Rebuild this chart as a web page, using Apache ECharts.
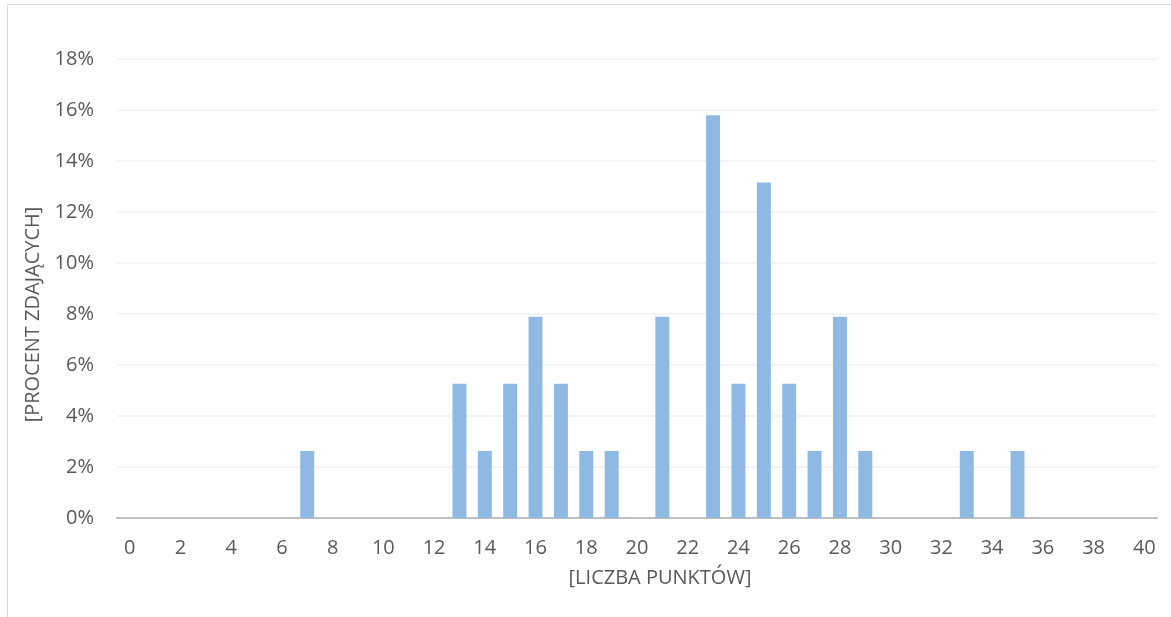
<!DOCTYPE html>
<html>
<head>
<meta charset="utf-8">
<script src="https://cdn.jsdelivr.net/npm/echarts@6/dist/echarts.min.js"></script>
<style>
  html, body { margin: 0; padding: 0; background: #fff; }
  #frame { position: absolute; left: 7px; top: 4px; width: 1170px; height: 620px; border: 1px solid #d9d9d9; box-sizing: border-box; }
  #chart { position: absolute; left: 0; top: 0; width: 1171px; height: 617px; }
</style>
</head>
<body>
<div id="frame"></div>
<div id="chart"></div>
<script>
// rozkład wyników: liczba punktów 0..40, procent zdających
const points = Array.from({ length: 41 }, (_, i) => String(i))
const percent = [
  0, 0, 0, 0, 0, 0, 0, 2.63, 0, 0,
  0, 0, 0, 5.26, 2.63, 5.26, 7.89, 5.26, 2.63, 2.63,
  0, 7.89, 0, 15.79, 5.26, 13.16, 5.26, 2.63, 7.89, 2.63,
  0, 0, 0, 2.63, 0, 2.63, 0, 0, 0, 0,
  0,
]
const yTicks = [0, 2, 4, 6, 8, 10, 12, 14, 16, 18]

const font = 'Open Sans, Liberation Sans, sans-serif'
const chart = echarts.init(document.getElementById('chart'))

chart.setOption({
  animation: false,
  grid: { left: 117, right: 14, top: 59, bottom: 99 },
  xAxis: {
    type: 'category',
    data: points,
    name: '[LICZBA PUNKTÓW]',
    nameLocation: 'middle',
    nameGap: 50,
    nameTextStyle: { color: '#595959', fontSize: 20, fontFamily: font, padding: [0, 0, 0, 46] },
    axisLine: { lineStyle: { color: '#bfbfbf', width: 2 } },
    axisTick: { show: false },
    axisLabel: {
      color: '#595959',
      fontSize: 20,
      fontFamily: font,
      margin: 20,
      interval: 1,
    },
  },
  yAxis: {
    type: 'value',
    min: yTicks[0],
    max: yTicks[yTicks.length - 1],
    interval: 2,
    name: '[PROCENT ZDAJĄCYCH]',
    nameLocation: 'middle',
    nameGap: 72,
    nameTextStyle: { color: '#595959', fontSize: 20, fontFamily: font, padding: [0, 52, 0, 0] },
    axisLine: { show: false },
    axisTick: { show: false },
    axisLabel: {
      color: '#595959',
      fontSize: 20,
      fontFamily: font,
      margin: 23,
      formatter: (v) => v + '%',
    },
    splitLine: { lineStyle: { color: '#f0f0f0', width: 1.5 } },
  },
  series: [
    {
      type: 'bar',
      data: percent,
      barWidth: '55%',
      itemStyle: { color: '#8db9e3' },
    },
  ],
})
</script>
</body>
</html>
